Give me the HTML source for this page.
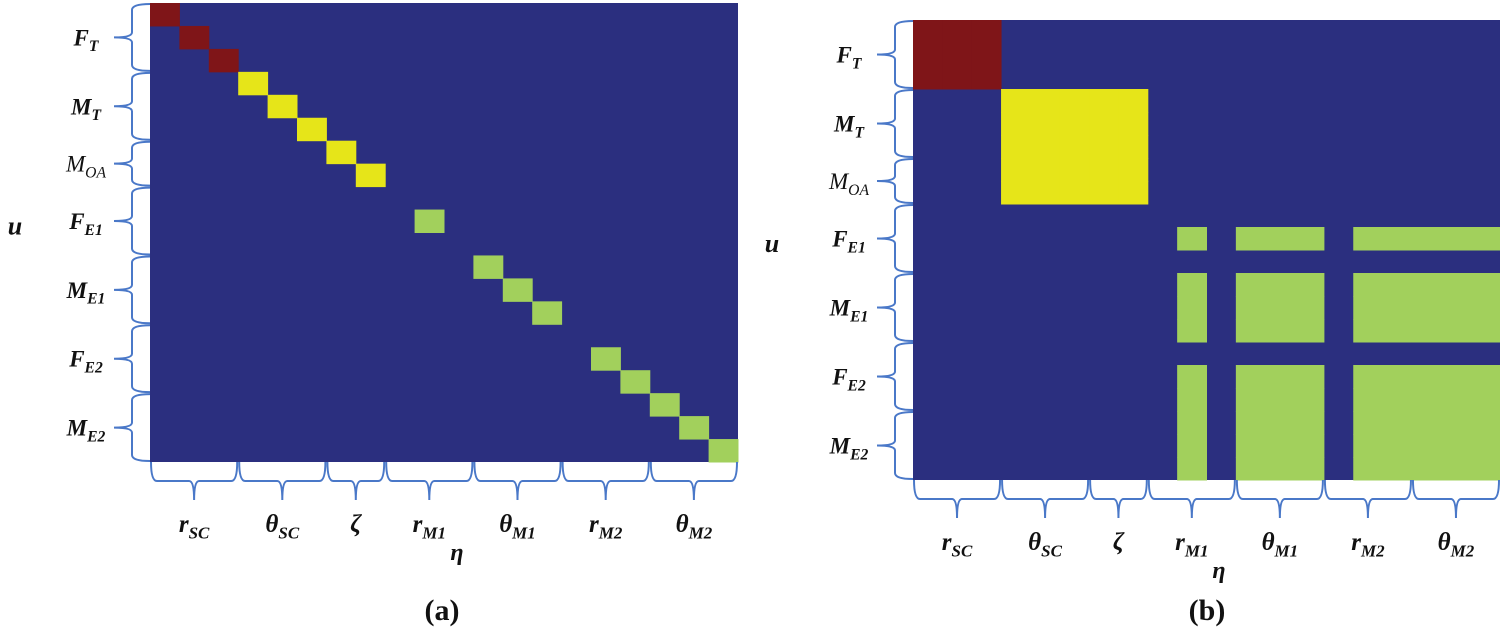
<!DOCTYPE html>
<html><head><meta charset="utf-8"><style>
html,body{margin:0;padding:0;background:#fff;}
svg{display:block;}
text{font-family:"Liberation Serif",serif;}
</style></head><body>
<svg id="fig" width="1500" height="635" viewBox="0 0 1500 635" xmlns="http://www.w3.org/2000/svg"></svg>
<script>
// category of each index (0 none, 1 red, 2 yellow, 3 green)
const cat = [1,1,1,2,2,2,2,2,0,3,0,3,3,3,0,3,3,3,3,3];
const colors = ["#2b2f7f","#7f1518","#e6e519","#a2d05c"];
const rowGroups = [["F","T",3,true],["M","T",3,true],["M","OA",2,false],["F","E1",3,true],["M","E1",3,true],["F","E2",3,true],["M","E2",3,true]];
const colGroups = [["r","SC",3],["θ","SC",3],["ζ","",2],["r","M1",3],["θ","M1",3],["r","M2",3],["θ","M2",3]];
const N = cat.length;
const svg = document.getElementById('fig');
const NS = "http://www.w3.org/2000/svg";
function mk(tag, attrs, parent){const e=document.createElementNS(NS,tag);for(const k in attrs)e.setAttribute(k,attrs[k]);(parent||svg).appendChild(e);return e;}

function label(parent,x,y,main,sub,bold,size){
  const t=mk('text',{x:x,y:y,'text-anchor':'middle','font-size':size,'font-style':'italic','font-weight':bold?'bold':'normal',fill:'#111'},parent);
  t.textContent=main;
  if(sub){const s=mk('tspan',{'font-size':size*0.68,dy:size*0.25},t);s.textContent=sub;}
  return t;
}

function panel(P){
  const g=mk('g',{});
  
  
  const cw=(P.x1-P.x0)/N, ch=(P.y1-P.y0)/N;
  const xs=j=>P.x0+j*cw, ys=i=>P.y0+i*ch;
  const bg=mk('rect',{x:P.x0,y:P.y0,width:P.x1-P.x0,height:P.y1-P.y0,fill:colors[0]},g);
  
  
  for(let i=0;i<N;i++)for(let j=0;j<N;j++){
    const v=P.cell(i,j);
    if(!v)continue;
    const r=mk('rect',{x:xs(j),y:ys(i),width:cw+0.5,height:ch+0.5,fill:colors[v]},g);
    
    
  }
  // left braces
  let k=0;
  rowGroups.forEach(rg=>{
    const a=ys(k)+1,b=ys(k+rg[2])-1,m=(a+b)/2,xr=P.x0,xm=P.x0-18,xl=P.x0-36;
    const p=mk('path',{d:`M${xr},${a} Q${xm},${a} ${xm},${a+6} L${xm},${m-5} Q${xm},${m} ${xl},${m} Q${xm},${m} ${xm},${m+5} L${xm},${b-6} Q${xm},${b} ${xr},${b}`,fill:'none',stroke:'#4a78c8','stroke-width':2},g);
    
    
    const t=label(g,xl-28,m+8,rg[0],rg[1],rg[3],23);
    
    
    k+=rg[2];
  });
  k=0;
  colGroups.forEach(cg=>{
    const a=xs(k)+1,b=xs(k+cg[2])-1,m=(a+b)/2,yt=P.y1,ym=P.y1+19,yl=P.y1+38;
    const p=mk('path',{d:`M${a},${yt} Q${a},${ym} ${a+6},${ym} L${m-5},${ym} Q${m},${ym} ${m},${yl} Q${m},${ym} ${m+5},${ym} L${b-6},${ym} Q${b},${ym} ${b},${yt}`,fill:'none',stroke:'#4a78c8','stroke-width':2},g);
    
    
    const t=label(g,m,P.y1+70,cg[0],cg[1],true,25);
    
    
    k+=cg[2];
  });
  const u=mk('text',{x:P.uX,y:(P.y0+P.y1)/2+2,'text-anchor':'middle','font-size':26,'font-weight':'bold','font-style':'italic',fill:'#111'},g);
  u.textContent='u';
  
  
  const e=mk('text',{x:P.etaX,y:P.y1+98,'text-anchor':'middle','font-size':24,'font-weight':'bold','font-style':'italic',fill:'#111'},g);
  e.textContent='η';
  
  
  const c=mk('text',{x:P.capX,y:620,'text-anchor':'middle','font-size':30,'font-weight':'bold',fill:'#111'},g);
  c.textContent=P.cap;
  
  
}

panel({name:'panel-a',x0:150,x1:738,y0:3,y1:462,uX:15,etaX:457,capX:442,cap:'(a)',
  cell:(i,j)=> i===j ? cat[i] : 0});
panel({name:'panel-b',x0:913,x1:1500,y0:20,y1:480,uX:772,etaX:1219,capX:1207,cap:'(b)',
  cell:(i,j)=> cat[i]===cat[j] ? cat[i] : 0});
</script>
</body></html>
